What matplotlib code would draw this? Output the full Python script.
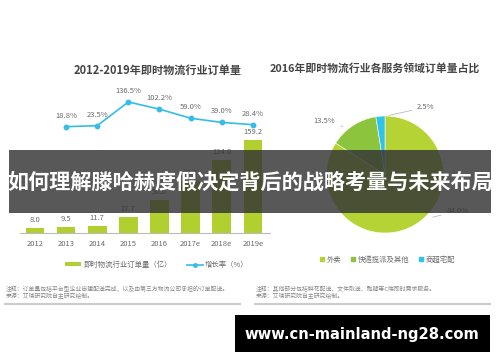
import matplotlib.pyplot as plt
from matplotlib.patches import Rectangle, Patch
from matplotlib.lines import Line2D

plt.rcParams["font.family"] = ["Noto Sans CJK SC", "DejaVu Sans"]

# left chart data
years = ["2012", "2013", "2014", "2015", "2016", "2017e", "2018e", "2019e"]
orders = [8.0, 9.5, 11.7, 27.7, 56.0, 89.2, 124.0, 159.2]
growth_years = years[1:]
growth = [18.8, 23.5, 136.5, 102.2, 59.0, 39.0, 28.4]

# right chart data
pie_labels = ["外卖", "快递揽派及其他", "商超宅配"]
pie_values = [84.0, 13.5, 2.5]

BAR_GREEN = "#b1cf2f"
LINE_CYAN = "#33bde8"
PIE_COLORS = ["#b5d334", "#8dc43e", "#2ec4ea"]
TXT = "#6a6a6a"

W, H = 500, 362


def fx(x):
    return x / W


def fy(y):
    return 1 - y / H


fig = plt.figure(figsize=(5, 3.62), dpi=100)
fig.patch.set_facecolor("white")

# ---- left: bars + growth line
ax = fig.add_axes([fx(20), fy(233), 250 / W, 138 / H])
xs = list(range(len(years)))
ax.bar(xs, orders, width=0.6, color=BAR_GREEN, zorder=2)
for x, v in zip(xs, orders):
    ax.annotate(f"{v:.1f}", (x, v), xytext=(0, 3), textcoords="offset points",
                ha="center", va="bottom", fontsize=5.5, color=TXT)
ax.set_xlim(-0.48, 7.55)
ax.set_ylim(0, 236)
ax.set_xticks(xs, years)
ax.tick_params(axis="x", length=0, pad=5, labelsize=5.5, labelcolor=TXT)
ax.set_yticks([])
for s in ["top", "right", "left"]:
    ax.spines[s].set_visible(False)
ax.spines["bottom"].set_color("#bbbbbb")
ax.spines["bottom"].set_linewidth(0.8)
ax.patch.set_alpha(0)

ax2 = ax.twinx()
gx = [years.index(y) for y in growth_years]
ax2.plot(gx, growth, color=LINE_CYAN, lw=1.2, marker="o", ms=3.2, zorder=3)
for x, v in zip(gx, growth):
    ax2.annotate(f"{v:.1f}%", (x, v), xytext=(0, 5), textcoords="offset points",
                 ha="center", va="bottom", fontsize=5.5, color=TXT)
ax2.set_ylim(-487.6, 169.6)
ax2.axis("off")

fig.text(fx(158), fy(70), "2012-2019年即时物流行业订单量", ha="center", va="center",
         fontsize=8.0, fontweight="bold", color="#444444")

handles = [Patch(facecolor=BAR_GREEN, label="即时物流行业订单量（亿）"),
           Line2D([], [], color=LINE_CYAN, marker="o", ms=2.5, lw=1.2, label="增长率（%）")]
fig.legend(handles=handles, loc="center", bbox_to_anchor=(fx(157), fy(265)), ncol=2,
           frameon=False, fontsize=5.3, labelcolor=TXT, handlelength=2.2,
           handleheight=0.45, columnspacing=2.0, handletextpad=0.3)

fig.text(fx(6), fy(289), "注释：订单量包括平台型企业自建配送完成，以及由第三方物流公司承担的订单配送。",
         fontsize=4.2, color="#888888", va="center")
fig.text(fx(6), fy(296), "来源：艾瑞研究院自主研究绘制。", fontsize=4.2, color="#888888", va="center")
fig.add_artist(Line2D([fx(5), fx(240)], [fy(304), fy(304)], color="#cccccc", lw=1.5))

# ---- right: pie
pax = fig.add_axes([fx(385 - 58.5), fy(174.5 + 58.5), 117 / W, 117 / H])
pax.pie(pie_values, colors=PIE_COLORS, startangle=90, counterclock=False,
        wedgeprops=dict(edgecolor="white", linewidth=0.4))
pax.set_xlim(-1, 1)
pax.set_ylim(-1, 1)
pax.set_aspect("auto")
lead = dict(arrowstyle="-", color="#bbbbbb", lw=0.6)
pax.annotate(f"{pie_values[2]:.1f}%", xy=(0.02, 1.0), xytext=(0.55, 1.15),
             fontsize=5.5, color=TXT, va="center", ha="left", arrowprops=lead,
             annotation_clip=False)
pax.annotate(f"{pie_values[1]:.1f}%", xy=(-0.72, 0.82), xytext=(-0.85, 0.91),
             fontsize=5.5, color=TXT, va="center", ha="right", arrowprops=lead,
             annotation_clip=False)
pax.annotate(f"{pie_values[0]:.1f}%", xy=(0.77, -0.74), xytext=(1.05, -0.63),
             fontsize=5.5, color=TXT, va="center", ha="left", arrowprops=lead,
             annotation_clip=False)

fig.text(fx(375), fy(68), "2016年即时物流行业各服务领域订单量占比", ha="center", va="center",
         fontsize=7.8, fontweight="bold", color="#444444")

phandles = [Line2D([], [], ls="", marker="s", ms=3, color=c, label=l)
            for c, l in zip(PIE_COLORS, pie_labels)]
fig.legend(handles=phandles, loc="center", bbox_to_anchor=(fx(387), fy(260)), ncol=3,
           frameon=False, fontsize=5.3, labelcolor=TXT, handlelength=0.8,
           columnspacing=1.2, handletextpad=0.2)

fig.text(fx(256), fy(289), "注释：其他部分包括鲜花配送、文件取送、跑腿等C端即时需求服务。",
         fontsize=4.2, color="#888888", va="center")
fig.text(fx(256), fy(296), "来源：艾瑞研究院自主研究绘制。", fontsize=4.2, color="#888888", va="center")
fig.add_artist(Line2D([fx(255), fx(490)], [fy(304), fy(304)], color="#cccccc", lw=1.5))

# ---- overlay banner (covers the middle of both charts, as in the source)
fig.add_artist(Rectangle((fx(9), fy(213)), 482 / W, 63 / H, transform=fig.transFigure,
                         facecolor="#333333", alpha=0.82, edgecolor="none", zorder=10))
fig.text(fx(250), fy(182), "如何理解滕哈赫度假决定背后的战略考量与未来布局", ha="center", va="center",
         fontsize=15.2, fontweight="bold", color="white", zorder=11)

# ---- bottom url box
fig.add_artist(Rectangle((fx(235), fy(352)), 255 / W, 37 / H, transform=fig.transFigure,
                         facecolor="black", edgecolor="none", zorder=10))
fig.text(fx(362), fy(334), "www.cn-mainland-ng28.com", ha="center", va="center",
         fontsize=10.6, fontweight="bold", color="white", family="DejaVu Sans", zorder=11)

fig.savefig("out.png", dpi=100)
